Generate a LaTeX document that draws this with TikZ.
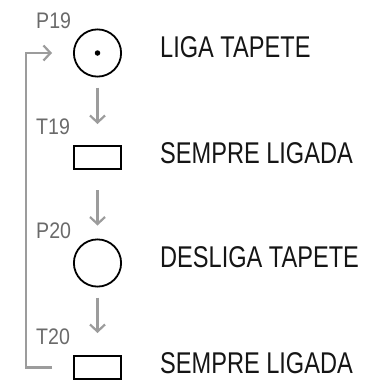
\documentclass[tikz,border=0pt]{standalone}
\usepackage{fontspec}
\setmainfont{Liberation Sans}[FakeStretch=0.786]
\newfontfamily\tagfont{Liberation Sans}[FakeStretch=0.87]
\usetikzlibrary{arrows.meta}
\definecolor{flowgray}{HTML}{9C9C9C}
\definecolor{labelgray}{HTML}{6A6A6A}
\definecolor{textdark}{HTML}{151515}

\begin{document}
\begin{tikzpicture}[x=1pt,y=-1pt,
  place/.style={circle,draw=black,line width=1.8pt,minimum size=47.2pt,inner sep=0pt},
  transition/.style={rectangle,draw=black,line width=1.8pt,minimum width=47.2pt,minimum height=23.2pt,inner sep=0pt},
  token/.style={circle,fill=black,minimum size=5.5pt,inner sep=0pt},
  flow/.style={draw=flowgray,line width=2.2pt,-{Straight Barb[length=7pt,width=15pt]}},
  tag/.style={anchor=base west,inner sep=0pt,text=labelgray,font=\tagfont\fontsize{22.5pt}{24pt}\selectfont},
  action/.style={anchor=base west,inner sep=0pt,text=textdark,font=\fontsize{30pt}{32pt}\selectfont}]
  \useasboundingbox (0,0) rectangle (372,380);

  % places and transitions of the net
  \node[place] (P19) at (97.5,53) {};
  \node[token] (mark) at (97.5,53) {};
  \node[transition] (T19) at (97.5,157.5) {};
  \node[place] (P20) at (97.5,263) {};
  \node[transition] (T20) at (97.5,367.5) {};

  % identifiers
  \node[tag] (lP19) at (36,28) {P19};
  \node[tag] (lT19) at (36,134) {T19};
  \node[tag] (lP20) at (36,238) {P20};
  \node[tag] (lT20) at (36,344) {T20};

  % actions
  \node[action] (aP19) at (160,57) {LIGA TAPETE};
  \node[action] (aT19) at (160,163) {SEMPRE LIGADA};
  \node[action] (aP20) at (160,267) {DESLIGA TAPETE};
  \node[action] (aT20) at (160,373) {SEMPRE LIGADA};

  % arcs
  \draw[flow,shorten <=10pt,shorten >=21pt] (P19) -- (T19);
  \draw[flow,shorten <=20pt,shorten >=13pt] (T19) -- (P20);
  \draw[flow,shorten <=10pt,shorten >=22pt] (P20) -- (T20);
  \draw[flow] ([xshift=-21pt]T20.west) -- ++(-26,0) |- ([xshift=-21pt]P19.west);
\end{tikzpicture}
\end{document}
